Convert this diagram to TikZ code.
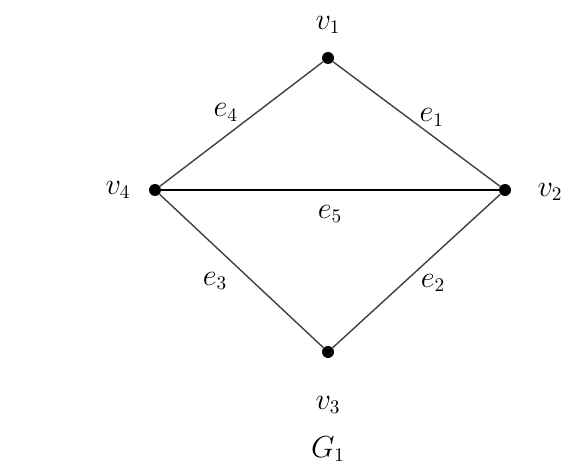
\documentclass[tikz,border=0pt]{standalone}
\usepackage{amsmath}
\usetikzlibrary{positioning}

\begin{document}
\begin{tikzpicture}[x=0.02cm, y=-0.02cm, node distance=0.3cm,
    vert/.style={circle, fill=black, inner sep=0pt, minimum size=0.24cm},
    edge/.style={draw=black!75, line width=0.8pt},
    lbl/.style={font=\fontsize{16pt}{18pt}\selectfont}]
    \useasboundingbox (0,0) rectangle (568,466);
    \node[vert] (v1) at (328,58) {};
    \node[vert] (v2) at (505,190) {};
    \node[vert] (v3) at (328,352) {};
    \node[vert] (v4) at (155,190) {};
    \draw[edge] (v1) -- (v2) node[lbl, pos=0.55, xshift=0.14cm, yshift=0.26cm] {$e_1$};
    \draw[edge] (v2) -- (v3) node[lbl, pos=0.5, xshift=0.33cm, yshift=-0.24cm] {$e_2$};
    \draw[edge] (v3) -- (v4) node[lbl, pos=0.5, xshift=-0.53cm, yshift=-0.2cm] {$e_3$};
    \draw[edge] (v4) -- (v1) node[lbl, pos=0.52, xshift=-0.38cm, yshift=0.18cm] {$e_4$};
    \draw[edge, draw=black, line width=1.1pt] (v4) -- (v2) node[lbl, midway, yshift=-0.48cm] {$e_5$};
    \node[lbl] (l1) at (328,25) {$v_1$};
    \node[lbl] (l2) at (550,192) {$v_2$};
    \node[lbl] (l3) at (328,405) {$v_3$};
    \node[lbl] (l4) at (118,190) {$v_4$};
    \node[lbl] (g1) at (328,449) {$G_1$};
\end{tikzpicture}
\end{document}
